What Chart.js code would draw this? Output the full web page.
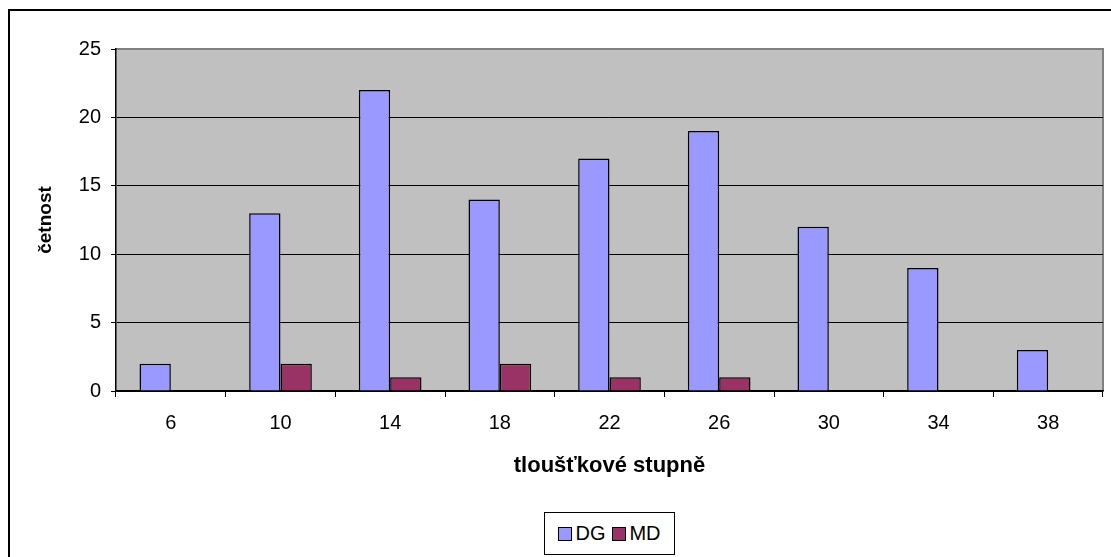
<!DOCTYPE html>
<html lang="cs">
<head>
<meta charset="utf-8">
<title>Tloušťkové stupně</title>
<script src="https://cdn.jsdelivr.net/npm/chart.js@4"></script>
<style>
  body { margin: 0; background: #fff; }
  #wrap { position: relative; width: 1111px; height: 557px; overflow: hidden; }
  #legend {
    position: absolute; left: 544px; top: 512px; width: 131px; height: 43px;
    border: 1px solid #000; background: #fff; box-sizing: border-box;
    display: flex; align-items: center; justify-content: center; gap: 7px;
    font: 20px "Liberation Sans", Arial, sans-serif; color: #000;
  }
  #legend span.item { display: flex; align-items: center; }
  #legend i { display: inline-block; width: 12px; height: 12px; border: 1.5px solid #000; margin-right: 3px; }
</style>
</head>
<body>
<div id="wrap">
  <canvas id="chart" width="1111" height="557"></canvas>
  <div id="legend"></div>
</div>
<script>
// tloušťkové stupně (cm) a četnosti pro obě dřeviny
const stupne = ["6", "10", "14", "18", "22", "26", "30", "34", "38"];
const dg = [2, 13, 22, 14, 17, 19, 12, 9, 3];
const md = [0, 2, 1, 2, 1, 1, 0, 0, 0];

const font = '"Liberation Sans", Arial, sans-serif';

// šedé pozadí grafu, rámeček a okraj celého obrázku
const plotFrame = {
  id: "plotFrame",
  beforeDraw(chart) {
    const { ctx, chartArea: a } = chart;
    ctx.save();
    ctx.fillStyle = "#fff";
    ctx.fillRect(0, 0, chart.width, chart.height);
    ctx.strokeStyle = "#000";
    ctx.lineWidth = 2;
    ctx.strokeRect(9, 10, 1130, 600);
    ctx.fillStyle = "#c0c0c0";
    ctx.fillRect(a.left, a.top, a.right - a.left, a.bottom - a.top);
    ctx.strokeStyle = "#808080";
    ctx.lineWidth = 2;
    ctx.beginPath();
    ctx.moveTo(a.left, a.top);
    ctx.lineTo(a.right, a.top);
    ctx.lineTo(a.right, a.bottom);
    ctx.stroke();
    ctx.restore();
  },
};

const chart = new Chart(document.getElementById("chart"), {
  type: "bar",
  data: {
    labels: stupne,
    datasets: [
      {
        label: "DG",
        data: dg,
        backgroundColor: "#9999ff",
        borderColor: "#000",
        borderWidth: 1.5,
      },
      {
        label: "MD",
        data: md,
        backgroundColor: "#993366",
        borderColor: "#000",
        borderWidth: 1.5,
      },
    ],
  },
  options: {
    responsive: false,
    animation: false,
    categoryPercentage: 2 / 3.5,
    barPercentage: 1,
    layout: { padding: { left: 0, top: 49, right: 8, bottom: 0 } },
    plugins: {
      legend: { display: false },
      tooltip: { enabled: false },
    },
    scales: {
      x: {
        afterFit: (s) => { s.height = 166; },
        grid: { drawOnChartArea: false, drawTicks: true, tickLength: 6, color: "#000", offset: true },
        border: { display: true, color: "#000", width: 1.5 },
        ticks: { color: "#000", font: { family: font, size: 20 }, padding: 14, maxRotation: 0 },
        title: {
          display: true,
          text: "tloušťkové stupně",
          color: "#000",
          font: { family: font, size: 22, weight: "bold" },
          padding: { top: 0, bottom: 78 },
        },
      },
      y: {
        min: 0,
        max: 25,
        afterFit: (s) => { s.width = 116; },
        grid: {
          color: (c) => (c.tick && c.tick.value === 25 ? "rgba(0,0,0,0)" : "#000"),
          tickColor: "#000",
          tickLength: 5,
          drawTicks: true,
        },
        border: { display: true, color: "#000", width: 1.5 },
        ticks: { stepSize: 5, color: "#000", font: { family: font, size: 20 }, padding: 10 },
        title: {
          display: true,
          text: "četnost",
          color: "#000",
          font: { family: font, size: 19, weight: "bold" },
          padding: { top: 34, bottom: 0 },
        },
      },
    },
  },
  plugins: [plotFrame],
});

// legenda pod grafem
const legend = document.getElementById("legend");
chart.data.datasets.forEach((ds) => {
  const item = document.createElement("span");
  item.className = "item";
  const box = document.createElement("i");
  box.style.background = ds.backgroundColor;
  item.appendChild(box);
  item.appendChild(document.createTextNode(ds.label));
  legend.appendChild(item);
});
</script>
</body>
</html>
